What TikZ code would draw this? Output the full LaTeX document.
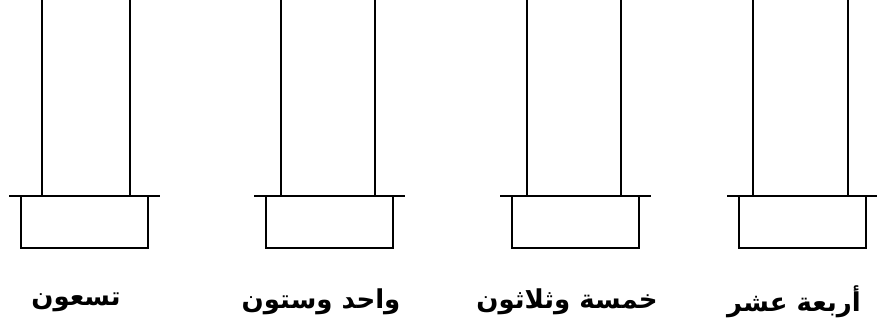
\documentclass[tikz,border=0pt]{standalone}
\usepackage{fontspec}
\newfontfamily\arabicfont[Script=Arabic]{DejaVu Sans}
\TeXXeTstate=1

\begin{document}
\begin{tikzpicture}[x=1pt,y=-1pt,line width=1.5pt]
   \useasboundingbox (0,0) rectangle (877,327);
   \foreach \x/\d/\t in {9/33/تسعون, 254/27/واحد وستون, 500/27/خمسة وثلاثون, 727/26/أربعة عشر}{
     \draw (\x,196) -- ++(151,0);
     \draw (\x+\d,0) -- (\x+\d,196);
     \draw (\x+121,0) -- (\x+121,196);
     \draw (\x+12,196) rectangle (\x+139,248);
     \node[font=\arabicfont\bfseries\fontsize{26}{30}\selectfont] (lbl\x) at (\x+67,302) {\beginR\t\endR};
   }
\end{tikzpicture}
\end{document}
